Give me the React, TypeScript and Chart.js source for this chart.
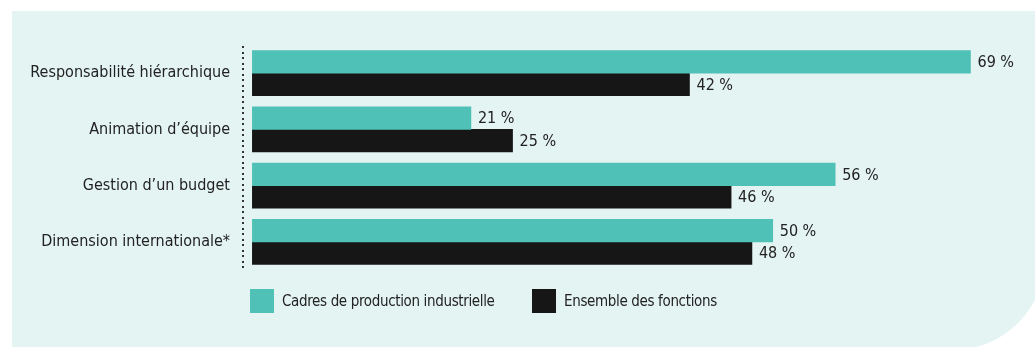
import React, { useEffect, useRef } from "react";
import { Chart, registerables } from "chart.js";

Chart.register(...registerables);

const categories = [
  "Responsabilité hiérarchique",
  "Animation d’équipe",
  "Gestion d’un budget",
  "Dimension internationale*",
];
const seriesNames = ["Cadres de production industrielle", "Ensemble des fonctions"];
const cadresValues = [69, 21, 56, 50];
const ensembleValues = [42, 25, 46, 48];
const colors = ["#4fc1b6", "#161616"];

const FONT = "'DejaVu Sans Condensed', 'DejaVu Sans', sans-serif";
const TEXT = "#222222";

const valueLabels = {
  id: "valueLabels",
  afterDatasetsDraw(chart: any) {
    const ctx = chart.ctx;
    ctx.save();
    ctx.font = `16px ${FONT}`;
    ctx.fillStyle = TEXT;
    ctx.textBaseline = "middle";
    ctx.textAlign = "left";
    chart.data.datasets.forEach((ds: any, di: number) => {
      const meta = chart.getDatasetMeta(di);
      meta.data.forEach((bar: any, i: number) => {
        ctx.fillText(`${ds.data[i]} %`, bar.x + 7, bar.y + 1);
      });
    });
    ctx.restore();
  },
};

const dottedAxis = {
  id: "dottedAxis",
  afterDraw(chart: any) {
    const ctx = chart.ctx;
    const { left, top, bottom } = chart.chartArea;
    ctx.save();
    ctx.fillStyle = "#333333";
    for (let y = top + 1; y <= bottom - 4; y += 5.5) {
      ctx.fillRect(Math.round(left) - 1, Math.round(y), 2, 2);
    }
    ctx.restore();
  },
};

const customLegend = {
  id: "customLegend",
  afterDraw(chart: any) {
    const ctx = chart.ctx;
    ctx.save();
    ctx.font = `15px ${FONT}`;
    try {
      (ctx as any).letterSpacing = "-0.35px";
    } catch (e) {}
    ctx.textBaseline = "middle";
    ctx.textAlign = "left";
    const xs = [238, 520];
    const boxY = 278;
    const box = 24;
    chart.data.datasets.forEach((ds: any, i: number) => {
      ctx.fillStyle = ds.backgroundColor;
      ctx.fillRect(xs[i], boxY, box, box);
      ctx.fillStyle = TEXT;
      ctx.fillText(ds.label, xs[i] + box + 8, boxY + box / 2 + 1);
    });
    ctx.restore();
  },
};

export default function App() {
  const ref = useRef<HTMLCanvasElement>(null);
  useEffect(() => {
    if (!ref.current) return;
    const chart = new Chart(ref.current, {
      type: "bar",
      data: {
        labels: categories,
        datasets: [
          { label: seriesNames[0], data: cadresValues, backgroundColor: colors[0], barThickness: 22.5 },
          { label: seriesNames[1], data: ensembleValues, backgroundColor: colors[1], barThickness: 22.5 },
        ],
      },
      options: {
        indexAxis: "y",
        animation: false,
        responsive: false,
        maintainAspectRatio: false,
        layout: { padding: { left: 0, right: 0, top: 34, bottom: 77 } },
        plugins: { legend: { display: false }, tooltip: { enabled: false } },
        scales: {
          x: {
            display: false,
            min: -0.9,
            max: 75.2,
            grid: { display: false },
          },
          y: {
            afterFit: (scale: any) => {
              scale.width = 231;
            },
            grid: { display: false, drawTicks: false },
            border: { display: false },
            ticks: {
              padding: 13,
              color: TEXT,
              font: { family: FONT, size: 16 },
            },
          },
        },
      },
      plugins: [valueLabels, dottedAxis, customLegend],
    });
    return () => chart.destroy();
  }, []);

  return (
    <div
      style={{
        position: "fixed",
        left: 0,
        top: 0,
        width: 1035,
        height: 347,
        overflow: "hidden",
        background: "#ffffff",
      }}
    >
      <div
        style={{
          position: "absolute",
          left: 12,
          top: 11,
          width: 1033,
          height: 339,
          background: "#e4f4f2",
          borderBottomRightRadius: 92,
        }}
      />
      <canvas
        ref={ref}
        width={1023}
        height={336}
        style={{ position: "absolute", left: 12, top: 11, width: 1023, height: 336 }}
      />
    </div>
  );
}
